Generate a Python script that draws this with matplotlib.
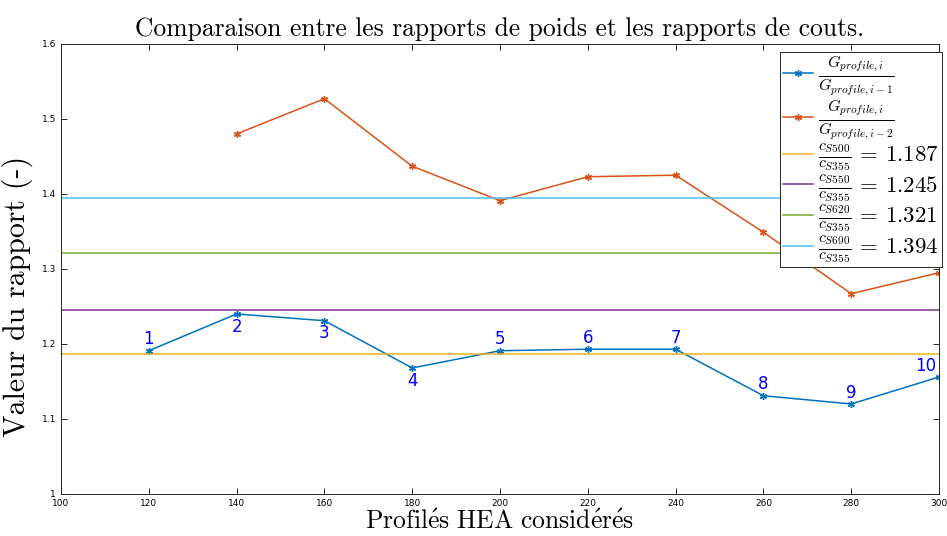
import matplotlib
matplotlib.use("Agg")
import matplotlib.pyplot as plt
import numpy as np

plt.rcParams['mathtext.fontset'] = 'cm'

# profils HEA
profiles = [120, 140, 160, 180, 200, 220, 240, 260, 280, 300]
ratio_1 = [1.191, 1.240, 1.231, 1.168, 1.191, 1.193, 1.193, 1.131, 1.120, 1.156]
profiles_2 = [140, 160, 180, 200, 220, 240, 260, 280, 300]
ratio_2 = [1.480, 1.527, 1.437, 1.391, 1.423, 1.425, 1.349, 1.267, 1.295]
point_labels = ['1', '2', '3', '4', '5', '6', '7', '8', '9', '10']
label_below = [False, True, True, True, False, False, False, False, False, False]

cost_names = ['S500', 'S550', 'S620', 'S690']
cost_ratios = [1.187, 1.245, 1.321, 1.394]
cost_colors = ['#EDB120', '#7E2F8E', '#77AC30', '#4DBEEE']

serif = ['cmr10', 'DejaVu Serif']
ast = (6, 2, 0)

fig = plt.figure(figsize=(9.47, 5.36), dpi=100)
ax = fig.add_axes([0.0644, 0.0784, 0.9272, 0.8396])

ax.plot(profiles, ratio_1, color='#0072BD', marker=ast, markersize=5, lw=1.1,
        label=r'$\frac{G_{profile,i}}{G_{profile,i-1}}$')
ax.plot(profiles_2, ratio_2, color='#D95319', marker=ast, markersize=5, lw=1.1,
        label=r'$\frac{G_{profile,i}}{G_{profile,i-2}}$')
for name, val, col in zip(cost_names, cost_ratios, cost_colors):
    ax.axhline(val, color=col, lw=1.1,
               label=r'$\frac{c_{%s}}{c_{S355}}\,=\,%.3f$' % (name, val))

for x, y, t, below in zip(profiles, ratio_1, point_labels, label_below):
    if below:
        ax.text(x, y - 0.005, t, color='blue', fontsize=12, ha='center', va='top')
    else:
        dx = -3 if t == '10' else 0
        ax.text(x + dx, y + 0.003, t, color='blue', fontsize=12, ha='center', va='bottom')

ax.set_xlim(100, 300)
ax.set_ylim(1, 1.6)
ax.set_xticks(np.arange(100, 301, 20))
ax.set_yticks(np.arange(1, 1.61, 0.1))
ax.set_yticklabels(['1', '1.1', '1.2', '1.3', '1.4', '1.5', '1.6'])
ax.tick_params(direction='in', labelsize=6.5, top=True, right=True, length=4, width=0.6)
for s in ax.spines.values():
    s.set_linewidth(0.7)
    s.set_color('#262626')

ax.set_title('Comparaison entre les rapports de poids et les rapports de couts.',
             family=serif, fontsize=18.4, pad=6)
ax.set_xlabel(r'$\mathrm{Profil\acute{e}s\ HEA\ consid\acute{e}r\acute{e}s}$',
              fontsize=18.5, labelpad=1)
ax.set_ylabel('Valeur du rapport (-)', family=serif, fontsize=21.5)
ax.yaxis.set_label_coords(-0.032, 0.438)

leg = ax.legend(loc='upper right', bbox_to_anchor=(1.0035, 0.982), fontsize=16.5,
                fancybox=False, edgecolor='#262626', framealpha=1,
                handlelength=1.3, handletextpad=0.25, labelspacing=0.0,
                borderpad=0.12, borderaxespad=0)
leg.get_frame().set_linewidth(0.7)

fig.savefig('out.png', dpi=100)
